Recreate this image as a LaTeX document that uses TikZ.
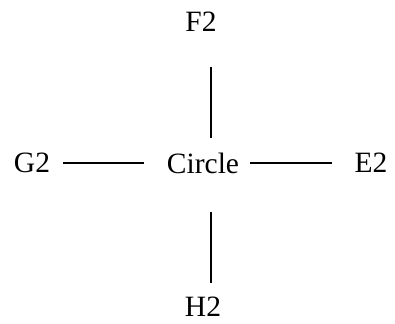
\documentclass[tikz,border=0pt]{standalone}
\usepackage{fontspec}
\setmainfont{Liberation Serif}
\tikzset{lbl/.style={inner sep=0pt,font=\fontsize{29.5}{32}\selectfont},
  link/.style={line width=1.3pt}}
\begin{document}
\begin{tikzpicture}[x=1pt,y=1pt]
\useasboundingbox (0,0) rectangle (395,-323);
\node[lbl] (circ) at (203,-163) {Circle};
\node[lbl] (f2) at (201,-22) {F2};
\node[lbl] (h2) at (203,-307) {H2};
\node[lbl] (g2) at (32,-163) {G2};
\node[lbl] (e2) at (371,-163) {E2};

\draw[link,shorten <=35pt,shorten >=14pt] ([xshift=10pt]f2.south) -- ([xshift=8pt]circ.north);
\draw[link,shorten <=38pt,shorten >=14pt] ([xshift=8pt]circ.south) -- ([xshift=8pt]h2.north);
\draw[link,shorten <=13pt,shorten >=23pt] (g2.east) -- (circ.west);
\draw[link,shorten <=11pt,shorten >=22.6pt] (circ.east) -- (e2.west);
\end{tikzpicture}
\end{document}
